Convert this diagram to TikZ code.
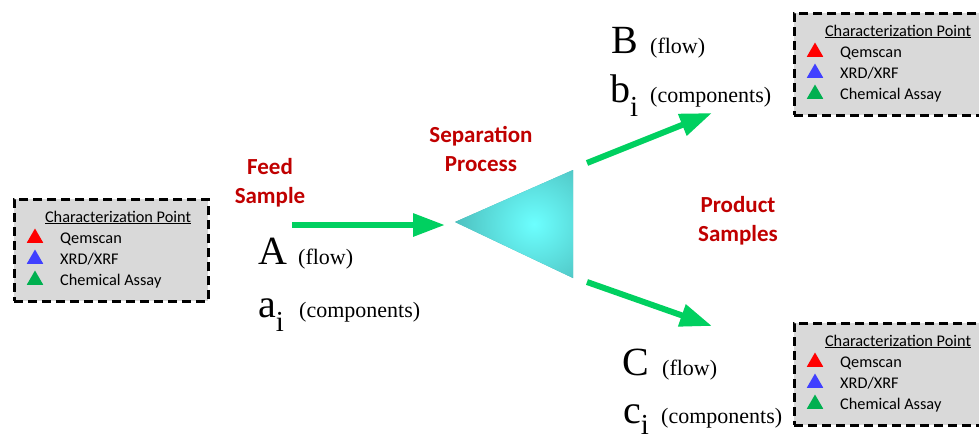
\documentclass[tikz,border=0pt]{standalone}
\usepackage{fontspec}
\usepackage{graphicx}
\setmainfont{Liberation Serif}
\newfontfamily\calibri{Carlito}
\usetikzlibrary{arrows.meta,shapes.geometric,calc}
\definecolor{rojo}{HTML}{C00000}
\definecolor{verde}{HTML}{00D060}
\definecolor{gris}{HTML}{D9D9D9}
\definecolor{cianClaro}{HTML}{6CFFFF}
\definecolor{cianOscuro}{HTML}{45B0AE}
\definecolor{marcaRoja}{HTML}{FF0000}
\definecolor{marcaAzul}{HTML}{4040FF}
\definecolor{marcaVerde}{HTML}{00B050}
\newcommand{\subi}[2]{#1\raisebox{-#2pt}{\fontsize{29}{29}\selectfont i}}

\begin{document}
\begin{tikzpicture}[x=1pt,y=-1pt,
    etiqueta/.style={font=\calibri\bfseries\fontsize{23}{29}\selectfont,
                     text=rojo,align=center,inner sep=0pt},
    flujo/.style={-{Triangle[length=32pt,width=22pt]},verde,line width=6pt},
    caja/.style={draw=black,fill=gris,dash pattern=on 9pt off 5pt,
                 line width=2.5pt,minimum width=194pt,minimum height=102pt,
                 anchor=north west,inner sep=0pt},
    marca/.style={regular polygon,regular polygon sides=3,minimum size=19pt,
                  inner sep=0pt},
    leyenda/.style={font=\calibri\fontsize{16.3}{18}\selectfont,
                    anchor=base west,inner sep=0pt},
    letra/.style={font=\fontsize{40}{40}\selectfont,anchor=base west,inner sep=0pt},
    nota/.style={font=\fontsize{22}{22}\selectfont,anchor=base west,inner sep=0pt}]
  \useasboundingbox (0,0) rectangle (979,439);

  % cajas de caracterizacion
  \foreach \n/\x/\y in {izq/13/198,sup/793/12,inf/793/322}{
    \node[caja] (\n) at (\x,\y) {};
    \node[leyenda,anchor=base] (\n-tit) at ($(\n.north west)+(105,24)$)
      {\underline{Characterization Point}};
    \node[marca,fill=marcaRoja] (\n-m1) at ($(\n.north west)+(22,40)$) {};
    \node[marca,fill=marcaAzul] (\n-m2) at ($(\n.north west)+(22,61)$) {};
    \node[marca,fill=marcaVerde] (\n-m3) at ($(\n.north west)+(22,82)$) {};
    \node[leyenda] (\n-t1) at ($(\n.north west)+(47,45)$) {Qemscan};
    \node[leyenda] (\n-t2) at ($(\n.north west)+(47,66)$) {XRD/XRF};
    \node[leyenda] (\n-t3) at ($(\n.north west)+(47,87)$) {Chemical Assay};
  }

  % proceso de separacion
  \begin{scope}
    \clip (455,222) -- (573,170) -- (573,278) -- cycle;
    \fill[cianOscuro] (450,165) rectangle (580,285);
    \shade[inner color=cianClaro,outer color=cianOscuro]
      (534,224) ellipse [x radius=100,y radius=95];
  \end{scope}
  \coordinate (entrada) at (445,225);
  \coordinate (alim) at (292,225);
  \coordinate (salidaB) at (587,163);
  \coordinate (puntaB) at (712,113);
  \coordinate (salidaC) at (587,282);
  \coordinate (puntaC) at (712,326);
  \draw[flujo] (alim) -- (entrada);
  \draw[flujo] (salidaB) -- (puntaB);
  \draw[flujo] (salidaC) -- (puntaC);

  \node[etiqueta] (feed) at (270,183) {Feed\\Sample};
  \node[etiqueta] (sep) at (481,149) {Separation\\Process};
  \node[etiqueta] (prod) at (738,221) {Product\\Samples};

  % corrientes
  \node[letra] (A) at (258,264) {A};
  \node[nota] (Aflujo) at (298,264) {(flow)};
  \node[letra] (a) at (258,317) {\subi{a}{14}};
  \node[nota] (acomp) at (299,317) {(components)};
  \node[letra] (B) at (611,53) {B};
  \node[nota] (Bflujo) at (650,53) {(flow)};
  \node[letra] (b) at (610,102) {\subi{b}{14}};
  \node[nota] (bcomp) at (650,102) {(components)};
  \node[letra] (C) at (622,375) {C};
  \node[nota] (Cflujo) at (662,375) {(flow)};
  \node[letra] (c) at (623,423) {\subi{c}{11}};
  \node[nota] (ccomp) at (661,423) {(components)};
\end{tikzpicture}
\end{document}
